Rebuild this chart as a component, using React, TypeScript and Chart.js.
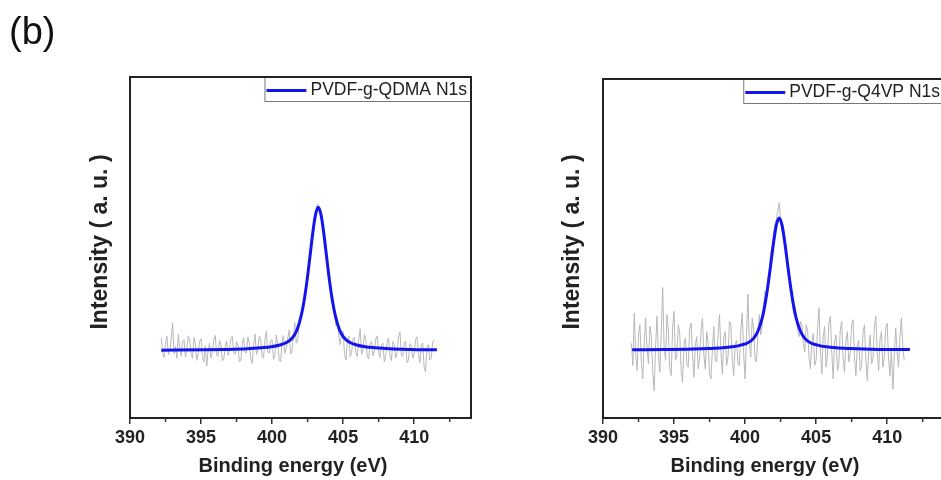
import React, { useEffect, useRef } from "react";
import { Chart, registerables } from "chart.js";

Chart.register(...registerables);

// ---------- data ----------
const xMin = 390;
const xMax = 414;
const majorTicks = [390, 395, 400, 405, 410];
const minorTicks = [392.5, 397.5, 402.5, 407.5, 412.5];

const xTitle = "Binding energy (eV)";
const yTitle = "Intensity ( a. u. )";
const panelTag = "(b)";

// Panel A: PVDF-g-QDMA N1s
const legendA = "PVDF-g-QDMA N1s";
const energiesA = [
  392.2, 392.3, 392.4, 392.5, 392.6, 392.7, 392.8, 392.9, 393.0, 393.1,
  393.2, 393.3, 393.4, 393.5, 393.6, 393.7, 393.8, 393.9, 394.0, 394.1,
  394.2, 394.3, 394.4, 394.5, 394.6, 394.7, 394.8, 394.9, 395.0, 395.1,
  395.2, 395.3, 395.4, 395.5, 395.6, 395.7, 395.8, 395.9, 396.0, 396.1,
  396.2, 396.3, 396.4, 396.5, 396.6, 396.7, 396.8, 396.9, 397.0, 397.1,
  397.2, 397.3, 397.4, 397.5, 397.6, 397.7, 397.8, 397.9, 398.0, 398.1,
  398.2, 398.3, 398.4, 398.5, 398.6, 398.7, 398.8, 398.9, 399.0, 399.1,
  399.2, 399.3, 399.4, 399.5, 399.6, 399.7, 399.8, 399.9, 400.0, 400.1,
  400.2, 400.3, 400.4, 400.5, 400.6, 400.7, 400.8, 400.9, 401.0, 401.1,
  401.2, 401.3, 401.4, 401.5, 401.6, 401.7, 401.8, 401.9, 402.0, 402.1,
  402.2, 402.3, 402.4, 402.5, 402.6, 402.7, 402.8, 402.9, 403.0, 403.1,
  403.2, 403.3, 403.4, 403.5, 403.6, 403.7, 403.8, 403.9, 404.0, 404.1,
  404.2, 404.3, 404.4, 404.5, 404.6, 404.7, 404.8, 404.9, 405.0, 405.1,
  405.2, 405.3, 405.4, 405.5, 405.6, 405.7, 405.8, 405.9, 406.0, 406.1,
  406.2, 406.3, 406.4, 406.5, 406.6, 406.7, 406.8, 406.9, 407.0, 407.1,
  407.2, 407.3, 407.4, 407.5, 407.6, 407.7, 407.8, 407.9, 408.0, 408.1,
  408.2, 408.3, 408.4, 408.5, 408.6, 408.7, 408.8, 408.9, 409.0, 409.1,
  409.2, 409.3, 409.4, 409.5, 409.6, 409.7, 409.8, 409.9, 410.0, 410.1,
  410.2, 410.3, 410.4, 410.5, 410.6, 410.7, 410.8, 410.9, 411.0, 411.1,
  411.2, 411.3, 411.4,
];
const intensityA = [
  23.5, 19.0, 17.8, 22.0, 24.0, 18.5, 19.5, 23.0, 27.8, 18.8,
  21.0, 17.5, 24.5, 20.8, 18.2, 22.5, 23.0, 17.9, 20.5, 24.0,
  22.8, 19.0, 17.5, 23.6, 21.8, 16.9, 19.0, 22.4, 23.2, 18.0,
  16.5, 21.2, 15.2, 20.0, 22.0, 17.6, 19.6, 23.0, 24.2, 18.4,
  18.0, 22.8, 21.5, 16.8, 17.2, 21.0, 22.6, 18.4, 19.8, 23.4,
  24.0, 19.0, 18.6, 22.4, 21.2, 16.5, 16.8, 21.8, 23.5, 19.2,
  19.2, 23.8, 22.0, 17.4, 16.0, 21.5, 24.6, 18.6, 20.2, 24.0,
  22.8, 18.0, 17.6, 23.0, 25.5, 19.4, 19.0, 22.6, 23.0, 17.2,
  18.4, 24.4, 21.6, 17.0, 16.5, 22.0, 24.2, 19.0, 20.5, 23.2,
  25.8, 18.8, 19.5, 23.8, 28.0, 22.0, 22.8, 27.0, 30.5, 30.8,
  33.8, 36.8, 38.5, 42.5, 45.0, 48.8, 51.5, 55.0, 57.6, 60.2,
  62.8, 61.5, 60.5, 57.5, 55.2, 51.5, 48.6, 44.5, 41.0, 38.0,
  35.5, 32.0, 30.2, 27.0, 28.5, 24.0, 21.5, 25.2, 25.5, 18.6,
  17.0, 22.6, 24.0, 18.0, 19.2, 23.4, 23.6, 19.0, 18.0, 22.8,
  26.2, 18.6, 20.0, 24.5, 23.0, 17.8, 17.4, 22.0, 22.4, 18.2,
  19.6, 23.2, 24.0, 18.8, 17.8, 21.6, 22.0, 16.4, 18.5, 22.4,
  23.5, 18.0, 16.8, 22.4, 21.5, 17.6, 19.2, 24.0, 25.2, 18.4,
  18.0, 22.2, 22.5, 16.2, 17.0, 21.8, 21.0, 17.5, 18.8, 23.0,
  23.8, 18.6, 16.2, 21.5, 22.0, 15.0, 13.5, 20.8, 21.5, 17.0,
  17.5, 22.0, 23.0,
];
const fitEnergiesA = [
  392.2, 395.25, 396.75, 398.25, 399.25, 399.95, 400.55, 401.05, 401.45, 401.75,
  402.05, 402.25, 402.45, 402.65, 402.85, 403.05, 403.25, 403.45, 403.65, 403.85,
  404.05, 404.25, 404.45, 404.75, 405.05, 405.45, 405.95, 406.55, 407.25, 408.25,
  409.75, 411.25, 411.6,
];
const fitA = [
  19.9, 20.0, 20.1, 20.3, 20.6, 20.9, 21.4, 22.2, 23.6, 25.8,
  30.0, 34.3, 40.0, 46.8, 53.8, 59.5, 61.8, 59.5, 53.8, 46.8,
  40.0, 34.3, 30.0, 25.8, 23.6, 22.2, 21.4, 20.9, 20.6, 20.3,
  20.1, 20.0, 20.0,
];

// Panel B: PVDF-g-Q4VP N1s
const legendB = "PVDF-g-Q4VP N1s";
const energiesB = [
  392.0, 392.1, 392.2, 392.3, 392.4, 392.5, 392.6, 392.7, 392.8, 392.9,
  393.0, 393.1, 393.2, 393.3, 393.4, 393.5, 393.6, 393.7, 393.8, 393.9,
  394.0, 394.1, 394.2, 394.3, 394.4, 394.5, 394.6, 394.7, 394.8, 394.9,
  395.0, 395.1, 395.2, 395.3, 395.4, 395.5, 395.6, 395.7, 395.8, 395.9,
  396.0, 396.1, 396.2, 396.3, 396.4, 396.5, 396.6, 396.7, 396.8, 396.9,
  397.0, 397.1, 397.2, 397.3, 397.4, 397.5, 397.6, 397.7, 397.8, 397.9,
  398.0, 398.1, 398.2, 398.3, 398.4, 398.5, 398.6, 398.7, 398.8, 398.9,
  399.0, 399.1, 399.2, 399.3, 399.4, 399.5, 399.6, 399.7, 399.8, 399.9,
  400.0, 400.1, 400.2, 400.3, 400.4, 400.5, 400.6, 400.7, 400.8, 400.9,
  401.0, 401.1, 401.2, 401.3, 401.4, 401.5, 401.6, 401.7, 401.8, 401.9,
  402.0, 402.1, 402.2, 402.3, 402.4, 402.5, 402.6, 402.7, 402.8, 402.9,
  403.0, 403.1, 403.2, 403.3, 403.4, 403.5, 403.6, 403.7, 403.8, 403.9,
  404.0, 404.1, 404.2, 404.3, 404.4, 404.5, 404.6, 404.7, 404.8, 404.9,
  405.0, 405.1, 405.2, 405.3, 405.4, 405.5, 405.6, 405.7, 405.8, 405.9,
  406.0, 406.1, 406.2, 406.3, 406.4, 406.5, 406.6, 406.7, 406.8, 406.9,
  407.0, 407.1, 407.2, 407.3, 407.4, 407.5, 407.6, 407.7, 407.8, 407.9,
  408.0, 408.1, 408.2, 408.3, 408.4, 408.5, 408.6, 408.7, 408.8, 408.9,
  409.0, 409.1, 409.2, 409.3, 409.4, 409.5, 409.6, 409.7, 409.8, 409.9,
  410.0, 410.1, 410.2, 410.3, 410.4, 410.5, 410.6, 410.7, 410.8, 410.9,
  411.0, 411.1, 411.2,
];
const intensityB = [
  22.0, 15.5, 31.0, 19.0, 14.0, 24.5, 27.5, 16.0, 11.5, 22.5,
  29.5, 20.5, 16.0, 27.0, 24.5, 13.5, 8.0, 21.0, 30.0, 18.5,
  13.5, 25.0, 38.5, 21.0, 17.0, 30.5, 26.0, 14.5, 12.5, 26.5,
  31.5, 17.0, 18.5, 27.5, 25.0, 14.0, 10.5, 22.0, 23.5, 16.0,
  15.0, 26.5, 28.0, 19.0, 12.0, 21.5, 24.0, 14.5, 17.5, 26.0,
  29.5, 18.5, 14.5, 25.5, 22.0, 13.0, 11.5, 20.5, 27.0, 17.0,
  16.5, 24.5, 30.5, 19.5, 13.0, 23.5, 25.5, 15.5, 18.0, 28.5,
  27.5, 17.0, 12.5, 21.5, 23.0, 16.0, 15.5, 26.5, 31.0, 19.0,
  11.5, 24.0, 36.5, 22.0, 18.0, 29.5, 26.0, 17.5, 16.5, 25.0,
  30.5, 24.5, 27.0, 33.0, 37.5, 35.5, 41.0, 43.5, 48.5, 50.5,
  54.5, 57.0, 58.5, 61.0, 63.5, 58.0, 55.0, 55.5, 53.5, 47.5,
  44.0, 42.5, 40.5, 34.5, 31.0, 33.0, 30.5, 26.0, 24.0, 28.5,
  27.5, 22.0, 19.5, 27.5, 26.0, 18.0, 14.5, 22.5, 25.0, 15.5,
  17.0, 26.5, 32.5, 20.0, 13.0, 24.0, 27.0, 15.0, 18.5, 28.0,
  30.0, 19.5, 11.5, 22.5, 24.5, 14.0, 16.0, 26.0, 28.5, 17.5,
  13.5, 23.0, 25.5, 16.5, 19.0, 27.5, 29.0, 18.0, 12.5, 21.5,
  23.0, 14.0, 15.5, 25.0, 27.5, 17.5, 11.0, 20.0, 24.5, 16.0,
  17.5, 27.0, 30.0, 19.5, 14.0, 23.5, 25.5, 15.0, 18.0, 26.5,
  28.0, 17.0, 12.5, 20.5, 8.5, 18.0, 26.5, 19.5, 15.0, 24.0,
  29.5, 21.0, 17.0,
];
const fitEnergiesB = [
  392.05, 394.4, 395.9, 397.4, 398.4, 399.1, 399.7, 400.2, 400.6, 400.9,
  401.2, 401.4, 401.6, 401.8, 402.0, 402.2, 402.4, 402.6, 402.8, 403.0,
  403.2, 403.4, 403.6, 403.9, 404.2, 404.6, 405.1, 405.7, 406.4, 407.4,
  408.9, 410.4, 411.6,
];
const fitB = [
  20.1, 20.2, 20.3, 20.5, 20.7, 21.0, 21.5, 22.2, 23.5, 25.6,
  29.4, 33.5, 38.8, 45.1, 51.6, 56.9, 59.0, 56.9, 51.6, 45.1,
  38.8, 33.5, 29.4, 25.6, 23.5, 22.2, 21.5, 21.0, 20.7, 20.5,
  20.3, 20.2, 20.2,
];

// ---------- styling ----------
const FONT = '"Liberation Sans", Arial, sans-serif';
const BLUE = "#1414ee";
const GRAY = "#b8b8b8";
const INK = "#222222";

type Spec = {
  legend: string;
  rawX: number[];
  rawY: number[];
  fitX: number[];
  fitY: number[];
  padL: number;
  padR: number;
  padT: number;
  bottom: number;
  yTitleX: number;
  yTitleY: number;
  xTitleX: number;
  xTitleY: number;
  tag: boolean;
};

function buildConfig(spec: Spec): any {
  const decor = {
    id: "decor",
    afterDraw(chart: any) {
      const ctx = chart.ctx as CanvasRenderingContext2D;
      const ca = chart.chartArea;
      const xs = chart.scales.x;
      ctx.save();

      // legend box (inside plot, top-right)
      ctx.font = `17.5px ${FONT}`;
      const tw = ctx.measureText(spec.legend).width;
      const boxW = 2 + 40 + 4 + tw + 4;
      const boxH = 25;
      const bx = ca.right - boxW;
      const by = ca.top;
      ctx.fillStyle = "#ffffff";
      ctx.fillRect(bx, by, boxW, boxH);
      ctx.strokeStyle = "#777777";
      ctx.lineWidth = 1;
      ctx.strokeRect(bx + 0.5, by + 0.5, boxW - 1, boxH - 1);
      ctx.strokeStyle = BLUE;
      ctx.lineWidth = 3;
      ctx.beginPath();
      ctx.moveTo(bx + 2, by + boxH / 2 + 1);
      ctx.lineTo(bx + 42, by + boxH / 2 + 1);
      ctx.stroke();
      ctx.fillStyle = INK;
      ctx.textAlign = "left";
      ctx.textBaseline = "middle";
      ctx.fillText(spec.legend, bx + 46, by + boxH / 2 + 1);

      // frame
      ctx.strokeStyle = INK;
      ctx.lineWidth = 2;
      ctx.strokeRect(ca.left, ca.top, ca.right - ca.left, ca.bottom - ca.top);

      // minor ticks
      ctx.lineWidth = 1.5;
      ctx.strokeStyle = "#333333";
      for (const v of minorTicks) {
        const px = xs.getPixelForValue(v);
        ctx.beginPath();
        ctx.moveTo(px, ca.bottom);
        ctx.lineTo(px, ca.bottom + 4);
        ctx.stroke();
      }

      // axis titles
      ctx.fillStyle = INK;
      ctx.font = `bold 20px ${FONT}`;
      ctx.textAlign = "center";
      ctx.textBaseline = "middle";
      ctx.fillText(xTitle, spec.xTitleX, spec.xTitleY);

      ctx.save();
      ctx.translate(spec.yTitleX, spec.yTitleY);
      ctx.rotate(-Math.PI / 2);
      ctx.font = `bold 23px ${FONT}`;
      ctx.fillText(yTitle, 0, 0);
      ctx.restore();

      if (spec.tag) {
        ctx.font = `38px ${FONT}`;
        ctx.textAlign = "left";
        ctx.textBaseline = "alphabetic";
        ctx.fillStyle = "#111111";
        ctx.fillText(panelTag, 9, 44);
      }
      ctx.restore();
    },
  };

  return {
    type: "line",
    data: {
      datasets: [
        {
          label: spec.legend,
          data: spec.fitX.map((x, i) => ({ x, y: spec.fitY[i] })),
          borderColor: BLUE,
          borderWidth: 3,
          pointRadius: 0,
          cubicInterpolationMode: "monotone",
          fill: false,
          order: 0,
        },
        {
          label: "raw",
          data: spec.rawX.map((x, i) => ({ x, y: spec.rawY[i] })),
          borderColor: GRAY,
          borderWidth: 1,
          pointRadius: 0,
          tension: 0,
          fill: false,
          order: 1,
        },
      ],
    },
    options: {
      responsive: false,
      animation: false,
      devicePixelRatio: 1,
      events: [],
      layout: {
        padding: { left: spec.padL, right: spec.padR, top: spec.padT, bottom: 0 },
      },
      plugins: {
        legend: { display: false },
        tooltip: { enabled: false },
        title: { display: false },
      },
      scales: {
        x: {
          type: "linear",
          min: xMin,
          max: xMax,
          afterFit: (s: any) => {
            s.height = 480 - spec.bottom;
          },
          afterBuildTicks: (s: any) => {
            s.ticks = majorTicks.map((v) => ({ value: v }));
          },
          ticks: {
            autoSkip: false,
            maxRotation: 0,
            minRotation: 0,
            padding: 3,
            color: INK,
            font: { family: FONT, size: 18, weight: "bold" },
            callback: (v: any) => String(v),
          },
          grid: {
            drawOnChartArea: false,
            drawTicks: true,
            tickLength: 6,
            color: "#333333",
            lineWidth: 1.5,
          },
          border: { display: false },
        },
        y: { display: false, min: 0, max: 100 },
      },
    },
    plugins: [decor],
  };
}

const specA: Spec = {
  legend: legendA,
  rawX: energiesA,
  rawY: intensityA,
  fitX: fitEnergiesA,
  fitY: fitA,
  padL: 130,
  padR: 9,
  padT: 77,
  bottom: 418,
  yTitleX: 101,
  yTitleY: 242,
  xTitleX: 293,
  xTitleY: 466,
  tag: true,
};

const specB: Spec = {
  legend: legendB,
  rawX: energiesB,
  rawY: intensityB,
  fitX: fitEnergiesB,
  fitY: fitB,
  padL: 123,
  padR: 16,
  padT: 79,
  bottom: 418,
  yTitleX: 93,
  yTitleY: 242,
  xTitleX: 285,
  xTitleY: 466,
  tag: false,
};

function Panel({ left, spec }: { left: number; spec: Spec }) {
  const ref = useRef<HTMLCanvasElement>(null);
  useEffect(() => {
    const chart = new Chart(ref.current as HTMLCanvasElement, buildConfig(spec));
    return () => chart.destroy();
  }, []);
  return (
    <canvas
      ref={ref}
      width={480}
      height={480}
      style={{ position: "absolute", left, top: 0, width: 480, height: 480 }}
    />
  );
}

export default function App() {
  return (
    <div
      style={{
        position: "fixed",
        left: 0,
        top: 0,
        width: 941,
        height: 480,
        overflow: "hidden",
        background: "#ffffff",
      }}
    >
      <Panel left={0} spec={specA} />
      <Panel left={480} spec={specB} />
    </div>
  );
}
